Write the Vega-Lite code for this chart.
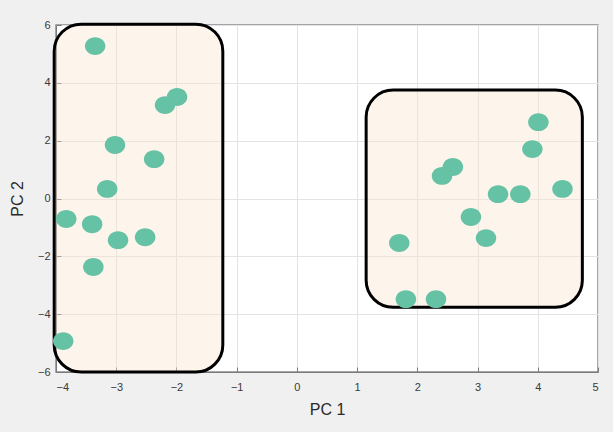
{
  "$schema": "https://vega.github.io/schema/vega-lite/v6.json",
  "width": 542,
  "height": 347,
  "autosize": "none",
  "padding": {"left": 56, "top": 25, "right": 15, "bottom": 60},
  "background": "#f0f0f0",
  "config": {
    "view": {"stroke": "#8a8a8a", "strokeWidth": 1.5, "fill": "white"},
    "font": "Liberation Sans"
  },
  "datasets": {
    "boxes": [
      {"x1": -4.03, "x2": -1.23, "y1": -6.0, "y2": 6.03},
      {"x1": 1.15, "x2": 4.74, "y1": -3.76, "y2": 3.75}
    ],
    "pts": [
      {"pc1": -3.35, "pc2": 5.27},
      {"pc1": -2.19, "pc2": 3.23},
      {"pc1": -1.99, "pc2": 3.51},
      {"pc1": -3.02, "pc2": 1.85},
      {"pc1": -2.37, "pc2": 1.36},
      {"pc1": -3.15, "pc2": 0.33},
      {"pc1": -3.83, "pc2": -0.71},
      {"pc1": -3.40, "pc2": -0.89},
      {"pc1": -2.97, "pc2": -1.44},
      {"pc1": -2.52, "pc2": -1.34},
      {"pc1": -3.38, "pc2": -2.37},
      {"pc1": -3.88, "pc2": -4.93},
      {"pc1": 4.01, "pc2": 2.64},
      {"pc1": 3.91, "pc2": 1.71},
      {"pc1": 2.59, "pc2": 1.09},
      {"pc1": 2.41, "pc2": 0.78},
      {"pc1": 3.34, "pc2": 0.15},
      {"pc1": 3.71, "pc2": 0.15},
      {"pc1": 4.41, "pc2": 0.33},
      {"pc1": 2.89, "pc2": -0.64},
      {"pc1": 3.14, "pc2": -1.37},
      {"pc1": 1.70, "pc2": -1.54},
      {"pc1": 1.81, "pc2": -3.48},
      {"pc1": 2.31, "pc2": -3.48}
    ]
  },
  "layer": [
    {
      "data": {"name": "boxes"},
      "mark": {"type": "rect", "cornerRadius": 27, "fill": "#fbe3d0", "fillOpacity": 0.4, "stroke": "black", "strokeWidth": 3, "clip": false},
      "encoding": {
        "x": {"field": "x1", "type": "quantitative", "scale": {"domain": [-4, 5], "nice": false, "zero": false},
          "axis": {"title": "PC 1", "values": [-4,-3,-2,-1,0,1,2,3,4,5], "format": "d", "grid": true, "gridColor": "#e3e3e3",
            "domainColor": "#7a7a7a", "tickColor": "#7a7a7a", "tickSize": -5, "labelPadding": 14,
            "labelFontSize": 11, "labelColor": "#3a3a3a", "titleFontSize": 16, "titleFontWeight": "normal",
            "titleColor": "#2a2a2a", "titlePadding": 9}},
        "x2": {"field": "x2"},
        "y": {"field": "y1", "type": "quantitative", "scale": {"domain": [-6, 6], "nice": false, "zero": false},
          "axis": {"title": "PC 2", "values": [-6,-4,-2,0,2,4,6], "format": "d", "grid": true, "gridColor": "#e3e3e3",
            "domainColor": "#7a7a7a", "tickColor": "#7a7a7a", "tickSize": -5, "labelPadding": 11,
            "labelFontSize": 11, "labelColor": "#3a3a3a", "titleFontSize": 16, "titleFontWeight": "normal",
            "titleColor": "#2a2a2a", "titlePadding": 12}},
        "y2": {"field": "y2"}
      }
    },
    {
      "data": {"name": "pts"},
      "mark": {"type": "point", "filled": true, "opacity": 1, "color": "#66c2a5", "size": 420,
        "shape": "M-1,0A1,0.87 0 1,0 1,0A1,0.87 0 1,0 -1,0Z", "clip": false},
      "encoding": {
        "x": {"field": "pc1", "type": "quantitative"},
        "y": {"field": "pc2", "type": "quantitative"}
      }
    }
  ]
}
